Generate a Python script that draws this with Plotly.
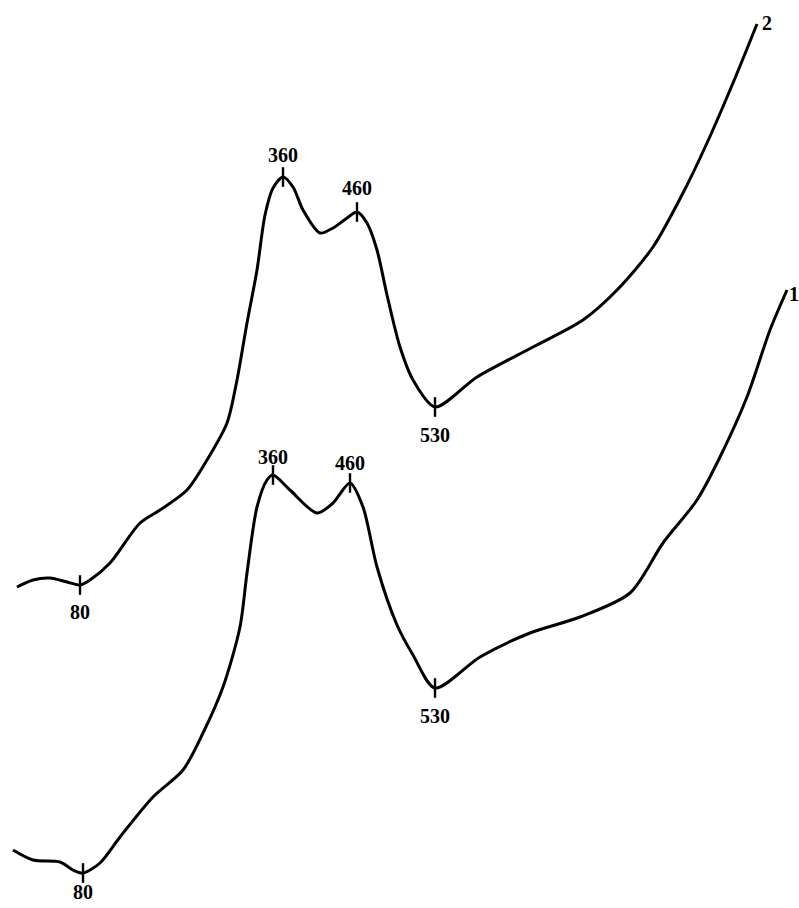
import plotly.graph_objects as go

# Curve 2 (upper spectrum) – arbitrary units
c2_x = [17, 33, 50, 67, 80, 90, 110, 140, 160, 187, 207, 227, 237, 247, 257, 265, 273, 283,
        293, 303, 320, 333, 347, 357, 367, 377, 387, 400, 413, 435, 477, 533, 583, 617,
        653, 683, 707, 733, 757]
c2_y = [587, 580, 578, 582, 585, 580, 563, 523, 510, 490, 460, 423, 380, 323, 270, 215, 188, 177,
        187, 210, 233, 228, 218, 212, 223, 250, 295, 347, 380, 407, 377, 347, 320, 290,
        247, 193, 143, 83, 24]

# Curve 1 (lower spectrum)
c1_x = [13, 33, 60, 73, 83, 100, 120, 153, 183, 203, 223, 240, 247, 257, 267, 273,
        290, 317, 333, 350, 363, 377, 397, 413, 435, 480, 530, 580, 630, 663, 697, 720,
        747, 770, 787]
c1_y = [850, 860, 862, 870, 873, 863, 837, 797, 770, 733, 687, 627, 573, 507, 480, 475,
        490, 513, 503, 483, 507, 567, 625, 655, 688, 657, 633, 617, 593, 543, 500, 457,
        397, 330, 290]

# Marked points (x, y, label, label offset px)
c2_marks_x = [80, 283, 357, 435]
c2_marks_y = [585, 177, 212, 407]
c2_marks_lbl = ["80", "360", "460", "530"]
c2_marks_off = [-27, 22, 24, -28]

c1_marks_x = [83, 273, 350, 435]
c1_marks_y = [873, 475, 483, 688]
c1_marks_lbl = ["80", "360", "460", "530"]
c1_marks_off = [-19, 18, 20, -28]

curve_names = ["2", "1"]

H = 908
def flip(ys):
    return [H - v for v in ys]

fig = go.Figure()
for xs, ys in [(c2_x, c2_y), (c1_x, c1_y)]:
    fig.add_trace(go.Scatter(x=xs, y=flip(ys), mode="lines",
                             line=dict(color="black", width=3, shape="spline", smoothing=0.8),
                             hoverinfo="skip", showlegend=False))

for mx, my in [(c2_marks_x, c2_marks_y), (c1_marks_x, c1_marks_y)]:
    fig.add_trace(go.Scatter(x=mx, y=flip(my), mode="markers",
                             marker=dict(symbol="line-ns", size=14,
                                         line=dict(color="black", width=2.4)),
                             hoverinfo="skip", showlegend=False))

font = dict(family="Liberation Serif, Times New Roman, serif", size=20, color="black")
for mx, my, lb, off in [(c2_marks_x, c2_marks_y, c2_marks_lbl, c2_marks_off),
                        (c1_marks_x, c1_marks_y, c1_marks_lbl, c1_marks_off)]:
    for x, y, t, o in zip(mx, flip(my), lb, off):
        fig.add_annotation(x=x, y=y, text="<b>%s</b>" % t, showarrow=False,
                           yshift=o, font=font)

# curve end labels
fig.add_annotation(x=c2_x[-1], y=H - c2_y[-1], text="<b>%s</b>" % curve_names[0],
                   showarrow=False, xanchor="left", xshift=3, yshift=1, font=font)
fig.add_annotation(x=c1_x[-1], y=H - c1_y[-1], text="<b>%s</b>" % curve_names[1],
                   showarrow=False, xanchor="left", xshift=0, yshift=-4, font=font)

fig.update_layout(width=799, height=908, margin=dict(l=0, r=0, t=0, b=0),
                  paper_bgcolor="white", plot_bgcolor="white",
                  xaxis=dict(range=[0, 799], visible=False, fixedrange=True),
                  yaxis=dict(range=[0, 908], visible=False, fixedrange=True))
fig.write_html("out.html", config={"displayModeBar": False},
               post_script="document.body.style.margin='0';document.body.style.overflow='hidden';")
